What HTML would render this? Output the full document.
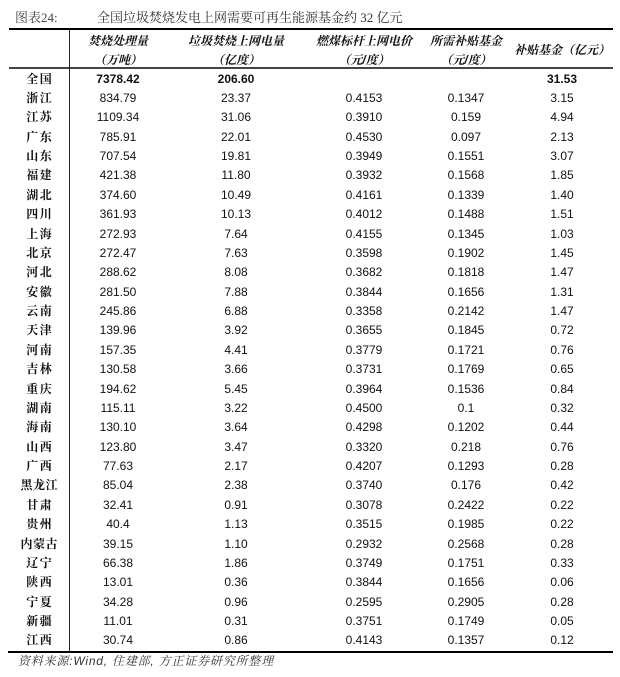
<!DOCTYPE html>
<html>
<head>
<meta charset="utf-8">
<style>
html,body{margin:0;padding:0;background:#fff;}
body{width:620px;height:677px;position:relative;overflow:hidden;font-family:"Liberation Sans","Noto Sans CJK SC",sans-serif;color:#111;}
.abs{position:absolute;}
.title{top:9px;height:18px;line-height:18px;font-family:"Liberation Serif","Noto Serif CJK SC",serif;font-size:13px;color:#333;white-space:nowrap;}
.hl{position:absolute;font-family:"Liberation Sans","Noto Serif CJK SC",serif;font-weight:bold;font-style:italic;font-size:12px;color:#111;text-align:center;height:18px;line-height:18px;white-space:nowrap;}
#body{position:absolute;left:0;top:69.6px;width:620px;}
.r{position:relative;height:19.38px;}
.r div{position:absolute;top:0;height:19.38px;line-height:19.38px;text-align:center;font-size:12px;white-space:nowrap;}
.r div.c1{left:9px;width:60px;font-family:"Liberation Serif","Noto Serif CJK SC",serif;font-weight:bold;letter-spacing:1.5px;text-indent:1.5px;}
.c2{left:70px;width:96px;}
.c3{left:188px;width:96px;}
.c4{left:316px;width:96px;}
.c5{left:418px;width:96px;}
.c6{left:514px;width:96px;}
.b div{font-weight:bold;}
.src{left:18px;top:652px;height:18px;line-height:18px;font-size:12px;font-style:italic;color:#333;font-family:"Liberation Sans","Noto Serif CJK SC",serif;white-space:nowrap;letter-spacing:0.8px;}
</style>
</head>
<body>
<div class="abs title" style="left:15px;color:#444;">图表24:</div>
<div class="abs title" style="left:97px;">全国垃圾焚烧发电上网需要可再生能源基金约 32 亿元</div>

<div class="abs" style="left:9px;top:28px;width:604px;height:2.2px;background:#000;"></div>
<div class="abs" style="left:9px;top:67.3px;width:604px;height:1.4px;background:#444;"></div>
<div class="abs" style="left:68.5px;top:29px;width:1.2px;height:623px;background:#222;"></div>
<div class="abs" style="left:8px;top:651px;width:605px;height:2.4px;background:#000;"></div>

<div class="hl" style="left:70px;width:96px;top:32px;">焚烧处理量</div>
<div class="hl" style="left:70px;width:96px;top:50.5px;">（万吨）</div>
<div class="hl" style="left:188px;width:96px;top:32px;">垃圾焚烧上网电量</div>
<div class="hl" style="left:188px;width:96px;top:50.5px;">（亿度）</div>
<div class="hl" style="left:311px;width:106px;top:32px;">燃煤标杆上网电价</div>
<div class="hl" style="left:311px;width:106px;top:50.5px;">（元/度）</div>
<div class="hl" style="left:418px;width:96px;top:32px;">所需补贴基金</div>
<div class="hl" style="left:418px;width:96px;top:50.5px;">（元/度）</div>
<div class="hl" style="left:509px;width:106px;top:41px;">补贴基金（亿元）</div>

<div id="body">
<div class="r b"><div class="c1">全国</div><div class="c2">7378.42</div><div class="c3">206.60</div><div class="c4"></div><div class="c5"></div><div class="c6">31.53</div></div>
<div class="r"><div class="c1">浙江</div><div class="c2">834.79</div><div class="c3">23.37</div><div class="c4">0.4153</div><div class="c5">0.1347</div><div class="c6">3.15</div></div>
<div class="r"><div class="c1">江苏</div><div class="c2">1109.34</div><div class="c3">31.06</div><div class="c4">0.3910</div><div class="c5">0.159</div><div class="c6">4.94</div></div>
<div class="r"><div class="c1">广东</div><div class="c2">785.91</div><div class="c3">22.01</div><div class="c4">0.4530</div><div class="c5">0.097</div><div class="c6">2.13</div></div>
<div class="r"><div class="c1">山东</div><div class="c2">707.54</div><div class="c3">19.81</div><div class="c4">0.3949</div><div class="c5">0.1551</div><div class="c6">3.07</div></div>
<div class="r"><div class="c1">福建</div><div class="c2">421.38</div><div class="c3">11.80</div><div class="c4">0.3932</div><div class="c5">0.1568</div><div class="c6">1.85</div></div>
<div class="r"><div class="c1">湖北</div><div class="c2">374.60</div><div class="c3">10.49</div><div class="c4">0.4161</div><div class="c5">0.1339</div><div class="c6">1.40</div></div>
<div class="r"><div class="c1">四川</div><div class="c2">361.93</div><div class="c3">10.13</div><div class="c4">0.4012</div><div class="c5">0.1488</div><div class="c6">1.51</div></div>
<div class="r"><div class="c1">上海</div><div class="c2">272.93</div><div class="c3">7.64</div><div class="c4">0.4155</div><div class="c5">0.1345</div><div class="c6">1.03</div></div>
<div class="r"><div class="c1">北京</div><div class="c2">272.47</div><div class="c3">7.63</div><div class="c4">0.3598</div><div class="c5">0.1902</div><div class="c6">1.45</div></div>
<div class="r"><div class="c1">河北</div><div class="c2">288.62</div><div class="c3">8.08</div><div class="c4">0.3682</div><div class="c5">0.1818</div><div class="c6">1.47</div></div>
<div class="r"><div class="c1">安徽</div><div class="c2">281.50</div><div class="c3">7.88</div><div class="c4">0.3844</div><div class="c5">0.1656</div><div class="c6">1.31</div></div>
<div class="r"><div class="c1">云南</div><div class="c2">245.86</div><div class="c3">6.88</div><div class="c4">0.3358</div><div class="c5">0.2142</div><div class="c6">1.47</div></div>
<div class="r"><div class="c1">天津</div><div class="c2">139.96</div><div class="c3">3.92</div><div class="c4">0.3655</div><div class="c5">0.1845</div><div class="c6">0.72</div></div>
<div class="r"><div class="c1">河南</div><div class="c2">157.35</div><div class="c3">4.41</div><div class="c4">0.3779</div><div class="c5">0.1721</div><div class="c6">0.76</div></div>
<div class="r"><div class="c1">吉林</div><div class="c2">130.58</div><div class="c3">3.66</div><div class="c4">0.3731</div><div class="c5">0.1769</div><div class="c6">0.65</div></div>
<div class="r"><div class="c1">重庆</div><div class="c2">194.62</div><div class="c3">5.45</div><div class="c4">0.3964</div><div class="c5">0.1536</div><div class="c6">0.84</div></div>
<div class="r"><div class="c1">湖南</div><div class="c2">115.11</div><div class="c3">3.22</div><div class="c4">0.4500</div><div class="c5">0.1</div><div class="c6">0.32</div></div>
<div class="r"><div class="c1">海南</div><div class="c2">130.10</div><div class="c3">3.64</div><div class="c4">0.4298</div><div class="c5">0.1202</div><div class="c6">0.44</div></div>
<div class="r"><div class="c1">山西</div><div class="c2">123.80</div><div class="c3">3.47</div><div class="c4">0.3320</div><div class="c5">0.218</div><div class="c6">0.76</div></div>
<div class="r"><div class="c1">广西</div><div class="c2">77.63</div><div class="c3">2.17</div><div class="c4">0.4207</div><div class="c5">0.1293</div><div class="c6">0.28</div></div>
<div class="r"><div class="c1" style="letter-spacing:0.5px;text-indent:0.5px;">黑龙江</div><div class="c2">85.04</div><div class="c3">2.38</div><div class="c4">0.3740</div><div class="c5">0.176</div><div class="c6">0.42</div></div>
<div class="r"><div class="c1">甘肃</div><div class="c2">32.41</div><div class="c3">0.91</div><div class="c4">0.3078</div><div class="c5">0.2422</div><div class="c6">0.22</div></div>
<div class="r"><div class="c1">贵州</div><div class="c2">40.4</div><div class="c3">1.13</div><div class="c4">0.3515</div><div class="c5">0.1985</div><div class="c6">0.22</div></div>
<div class="r"><div class="c1" style="letter-spacing:0.5px;text-indent:0.5px;">内蒙古</div><div class="c2">39.15</div><div class="c3">1.10</div><div class="c4">0.2932</div><div class="c5">0.2568</div><div class="c6">0.28</div></div>
<div class="r"><div class="c1">辽宁</div><div class="c2">66.38</div><div class="c3">1.86</div><div class="c4">0.3749</div><div class="c5">0.1751</div><div class="c6">0.33</div></div>
<div class="r"><div class="c1">陕西</div><div class="c2">13.01</div><div class="c3">0.36</div><div class="c4">0.3844</div><div class="c5">0.1656</div><div class="c6">0.06</div></div>
<div class="r"><div class="c1">宁夏</div><div class="c2">34.28</div><div class="c3">0.96</div><div class="c4">0.2595</div><div class="c5">0.2905</div><div class="c6">0.28</div></div>
<div class="r"><div class="c1">新疆</div><div class="c2">11.01</div><div class="c3">0.31</div><div class="c4">0.3751</div><div class="c5">0.1749</div><div class="c6">0.05</div></div>
<div class="r"><div class="c1">江西</div><div class="c2">30.74</div><div class="c3">0.86</div><div class="c4">0.4143</div><div class="c5">0.1357</div><div class="c6">0.12</div></div>
</div>

<div class="abs src">资料来源:Wind, 住建部, 方正证券研究所整理</div>
</body>
</html>
